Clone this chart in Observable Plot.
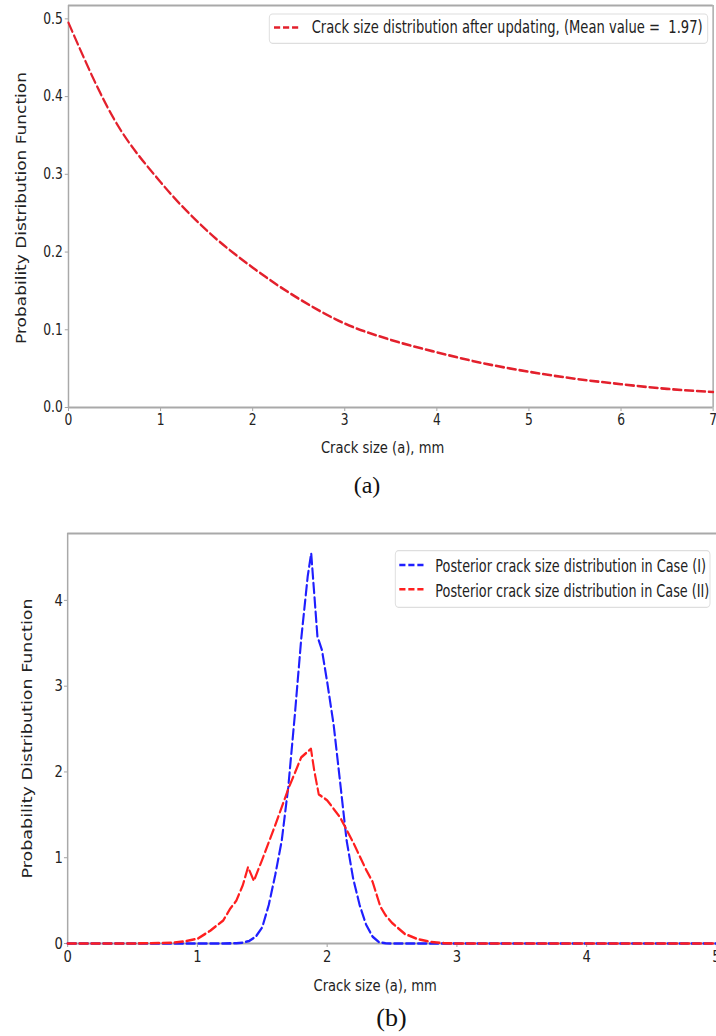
<!DOCTYPE html>
<html>
<head>
<meta charset="utf-8">
<script src="https://cdn.jsdelivr.net/npm/d3@7"></script>
<script src="https://cdn.jsdelivr.net/npm/@observablehq/plot@0.6"></script>
<style>
  html, body { margin: 0; padding: 0; background: white; }
  #wrap { position: relative; width: 716px; height: 1036px; overflow: hidden; background: white; }
  .panel { position: absolute; left: 0; }
  .cap { position: absolute; font-family: "Liberation Serif", "Times New Roman", serif; color: #111; transform: translate(-50%, -50%); white-space: nowrap; }
</style>
</head>
<body>
<div id="wrap"></div>
<script>
// ---------------- data ----------------
// Panel (a): crack size distribution after updating
const sizeA = [0, 0.5, 1, 1.5, 2, 2.5, 3, 3.5, 4, 4.5, 5, 5.5, 6, 6.5, 7];
const pdfA  = [0.495, 0.37, 0.29, 0.228, 0.18, 0.14, 0.108, 0.087, 0.071, 0.057, 0.046, 0.037, 0.030, 0.024, 0.020];
const legendA = "Crack size distribution after updating, (Mean value =  1.97)";
const ticksXA = [0, 1, 2, 3, 4, 5, 6, 7];
const ticksYA = [0, 0.1, 0.2, 0.3, 0.4, 0.5];

// Panel (b): posterior crack size distributions
const sizeCaseI = [0, 0.5, 1, 1.2, 1.3, 1.35, 1.4, 1.45, 1.5, 1.55, 1.6, 1.65, 1.7, 1.75, 1.8, 1.85, 1.877, 1.925, 1.96, 2.0, 2.05, 2.1, 2.15, 2.2, 2.25, 2.3, 2.35, 2.4, 2.45, 2.5, 3, 4, 5];
const pdfCaseI  = [0, 0, 0, 0, 0.003, 0.01, 0.03, 0.08, 0.19, 0.45, 0.80, 1.2, 1.82, 2.65, 3.55, 4.28, 4.55, 3.58, 3.42, 3.05, 2.55, 1.88, 1.2, 0.76, 0.45, 0.22, 0.08, 0.015, 0.003, 0, 0, 0, 0];
const sizeCaseII = [0, 0.5, 0.8, 0.9, 1.0, 1.1, 1.2, 1.25, 1.3, 1.35, 1.39, 1.435, 1.5, 1.6, 1.7, 1.8, 1.875, 1.9, 1.935, 2.0, 2.1, 2.2, 2.3, 2.35, 2.41, 2.45, 2.5, 2.6, 2.7, 2.8, 2.9, 3.0, 4, 5];
const pdfCaseII  = [0, 0, 0.008, 0.025, 0.055, 0.15, 0.27, 0.40, 0.50, 0.68, 0.89, 0.73, 0.98, 1.38, 1.8, 2.17, 2.27, 2.02, 1.74, 1.67, 1.47, 1.18, 0.86, 0.72, 0.43, 0.33, 0.24, 0.11, 0.05, 0.018, 0.004, 0, 0, 0];
const legendB = ["Posterior crack size distribution in Case (I)", "Posterior crack size distribution in Case (II)"];
const colorsB = ["#1f1fff", "#ff1f1f"];
const ticksXB = [0, 1, 2, 3, 4, 5];
const ticksYB = [0, 1, 2, 3, 4];

const xLabel = "Crack size (a), mm";
const yLabel = "Probability Distribution Function";
const captions = ["(a)", "(b)"];

// ---------------- layout helpers ----------------
const SCREEN_W = 716;
const SVG_W = 873;               // drawn wider, then squeezed horizontally like the source figure
const K = SCREEN_W / SVG_W;
const spine = "#a9a9a9";
const dash = "10,4.5";

function squeeze(svg, h, top) {
  svg.setAttribute("width", SCREEN_W);
  svg.setAttribute("height", h);
  svg.setAttribute("viewBox", `0 0 ${SVG_W} ${h}`);
  svg.setAttribute("preserveAspectRatio", "none");
  svg.style.width = SCREEN_W + "px";
  svg.style.height = h + "px";
  svg.style.maxWidth = "none";
  svg.classList.add("panel");
  svg.style.top = top + "px";
  return svg;
}

function addLegend(svg, box, items, fontSize) {
  const g = d3.select(svg).append("g").attr("text-anchor", "start");
  g.append("rect")
    .attr("x", box.x / K).attr("y", box.y)
    .attr("width", box.w / K).attr("height", box.h)
    .attr("rx", 4).attr("fill", "white").attr("fill-opacity", 0.9)
    .attr("stroke", "#dedede").attr("stroke-width", 1.2);
  items.forEach(it => {
    g.append("line")
      .attr("x1", it.x1 / K).attr("x2", it.x2 / K)
      .attr("y1", it.ly).attr("y2", it.ly)
      .attr("stroke", it.color).attr("stroke-width", 2.6)
      .attr("stroke-dasharray", "7.5,3.5");
    g.append("text")
      .attr("x", it.tx / K).attr("y", it.ty)
      .attr("text-anchor", "start")
      .attr("font-family", "DejaVu Sans, sans-serif")
      .attr("font-size", fontSize)
      .attr("fill", "#222")
      .attr("textLength", it.tw / K)
      .attr("lengthAdjust", "spacingAndGlyphs")
      .text(it.label);
  });
}

const wrap = document.getElementById("wrap");

// ---------------- panel (a) ----------------
const dataA = sizeA.map((x, i) => ({x, y: pdfA[i]}));
const topA = 0.5172;
const plotA = Plot.plot({
  width: SVG_W,
  height: 460,
  marginLeft: 83,
  marginRight: 4,
  marginTop: 5,
  marginBottom: 53,
  style: {fontFamily: "DejaVu Sans, sans-serif", fontSize: "15px", background: "white", color: "#222"},
  x: {domain: [0, 7]},
  y: {domain: [0, topA]},
  marks: [
    Plot.axisX({ticks: ticksXA, tickFormat: d3.format("d"), tickSize: 4, tickPadding: 3, stroke: "#999", fill: "#222", label: null, fontSize: 15}),
    Plot.axisY({ticks: ticksYA, tickFormat: d3.format(".1f"), tickSize: 4, tickPadding: 3, stroke: "#999", fill: "#222", label: null, fontSize: 15}),
    Plot.ruleX([0, 7], {stroke: spine, strokeWidth: 1.8}),
    Plot.ruleY([0, topA], {stroke: spine, strokeWidth: 1.8}),
    Plot.line(dataA, {x: "x", y: "y", stroke: "#e3202c", strokeWidth: 2.6, strokeDasharray: dash, curve: "monotone-x"}),
    Plot.text([xLabel], {frameAnchor: "bottom", lineAnchor: "bottom", textAnchor: "middle", dx: -10, dy: 45, fontSize: 16, fill: "#222"}),
    Plot.text([yLabel], {frameAnchor: "left", rotate: -90, lineAnchor: "middle", textAnchor: "middle", dx: -57, dy: 1.5, fontSize: 17, fill: "#222"})
  ]
});
squeeze(plotA, 460, 0);
addLegend(plotA, {x: 269.3, y: 14, w: 438.4, h: 29.3}, [
  {label: legendA, color: "#e3202c", x1: 274, x2: 300, ly: 27.5, tx: 311.7, ty: 33.3, tw: 391}
], 17);
wrap.appendChild(plotA);

// ---------------- panel (b) ----------------
const dataI = sizeCaseI.map((x, i) => ({x, y: pdfCaseI[i]}));
const dataII = sizeCaseII.map((x, i) => ({x, y: pdfCaseII[i]}));
const topB = 4.78;
const plotB = Plot.plot({
  width: SVG_W,
  height: 500,
  marginLeft: 82,
  marginRight: 0,
  marginTop: 33,
  marginBottom: 57,
  style: {fontFamily: "DejaVu Sans, sans-serif", fontSize: "16px", background: "white", color: "#222"},
  x: {domain: [0, 5]},
  y: {domain: [0, topB]},
  marks: [
    Plot.axisX({ticks: ticksXB, tickFormat: d3.format("d"), tickSize: 4, tickPadding: 3, stroke: "#999", fill: "#222", label: null, fontSize: 16}),
    Plot.axisY({ticks: ticksYB, tickFormat: d3.format("d"), tickSize: 4, tickPadding: 2, stroke: "#999", fill: "#222", label: null, fontSize: 16}),
    Plot.ruleX([0], {stroke: spine, strokeWidth: 1.8}),
    Plot.ruleY([0, topB], {stroke: spine, strokeWidth: 1.8}),
    Plot.line(dataI, {x: "x", y: "y", stroke: colorsB[0], strokeWidth: 2.6, strokeDasharray: dash}),
    Plot.line(dataII, {x: "x", y: "y", stroke: colorsB[1], strokeWidth: 2.6, strokeDasharray: dash}),
    Plot.text([xLabel], {frameAnchor: "bottom", lineAnchor: "bottom", textAnchor: "middle", dx: -20.6, dy: 47, fontSize: 16, fill: "#222"}),
    Plot.text([yLabel], {frameAnchor: "left", rotate: -90, lineAnchor: "middle", textAnchor: "middle", dx: -48.5, dy: 0, fontSize: 17.5, fill: "#222"})
  ]
});
squeeze(plotB, 500, 500);
addLegend(plotB, {x: 395.3, y: 50.7, w: 314.7, h: 56.6}, [
  {label: legendB[0], color: colorsB[0], x1: 399.3, x2: 426, ly: 65, tx: 435.3, ty: 71.7, tw: 270.7},
  {label: legendB[1], color: colorsB[1], x1: 399.3, x2: 426, ly: 89.3, tx: 435.3, ty: 96.7, tw: 274}
], 18);
wrap.appendChild(plotB);

// ---------------- captions ----------------
[[captions[0], 367, 485, 24], [captions[1], 391.5, 1018, 26]].forEach(([t, x, y, fs]) => {
  const d = document.createElement("div");
  d.className = "cap";
  d.style.left = x + "px";
  d.style.top = y + "px";
  d.style.fontSize = fs + "px";
  d.textContent = t;
  wrap.appendChild(d);
});
</script>
</body>
</html>
